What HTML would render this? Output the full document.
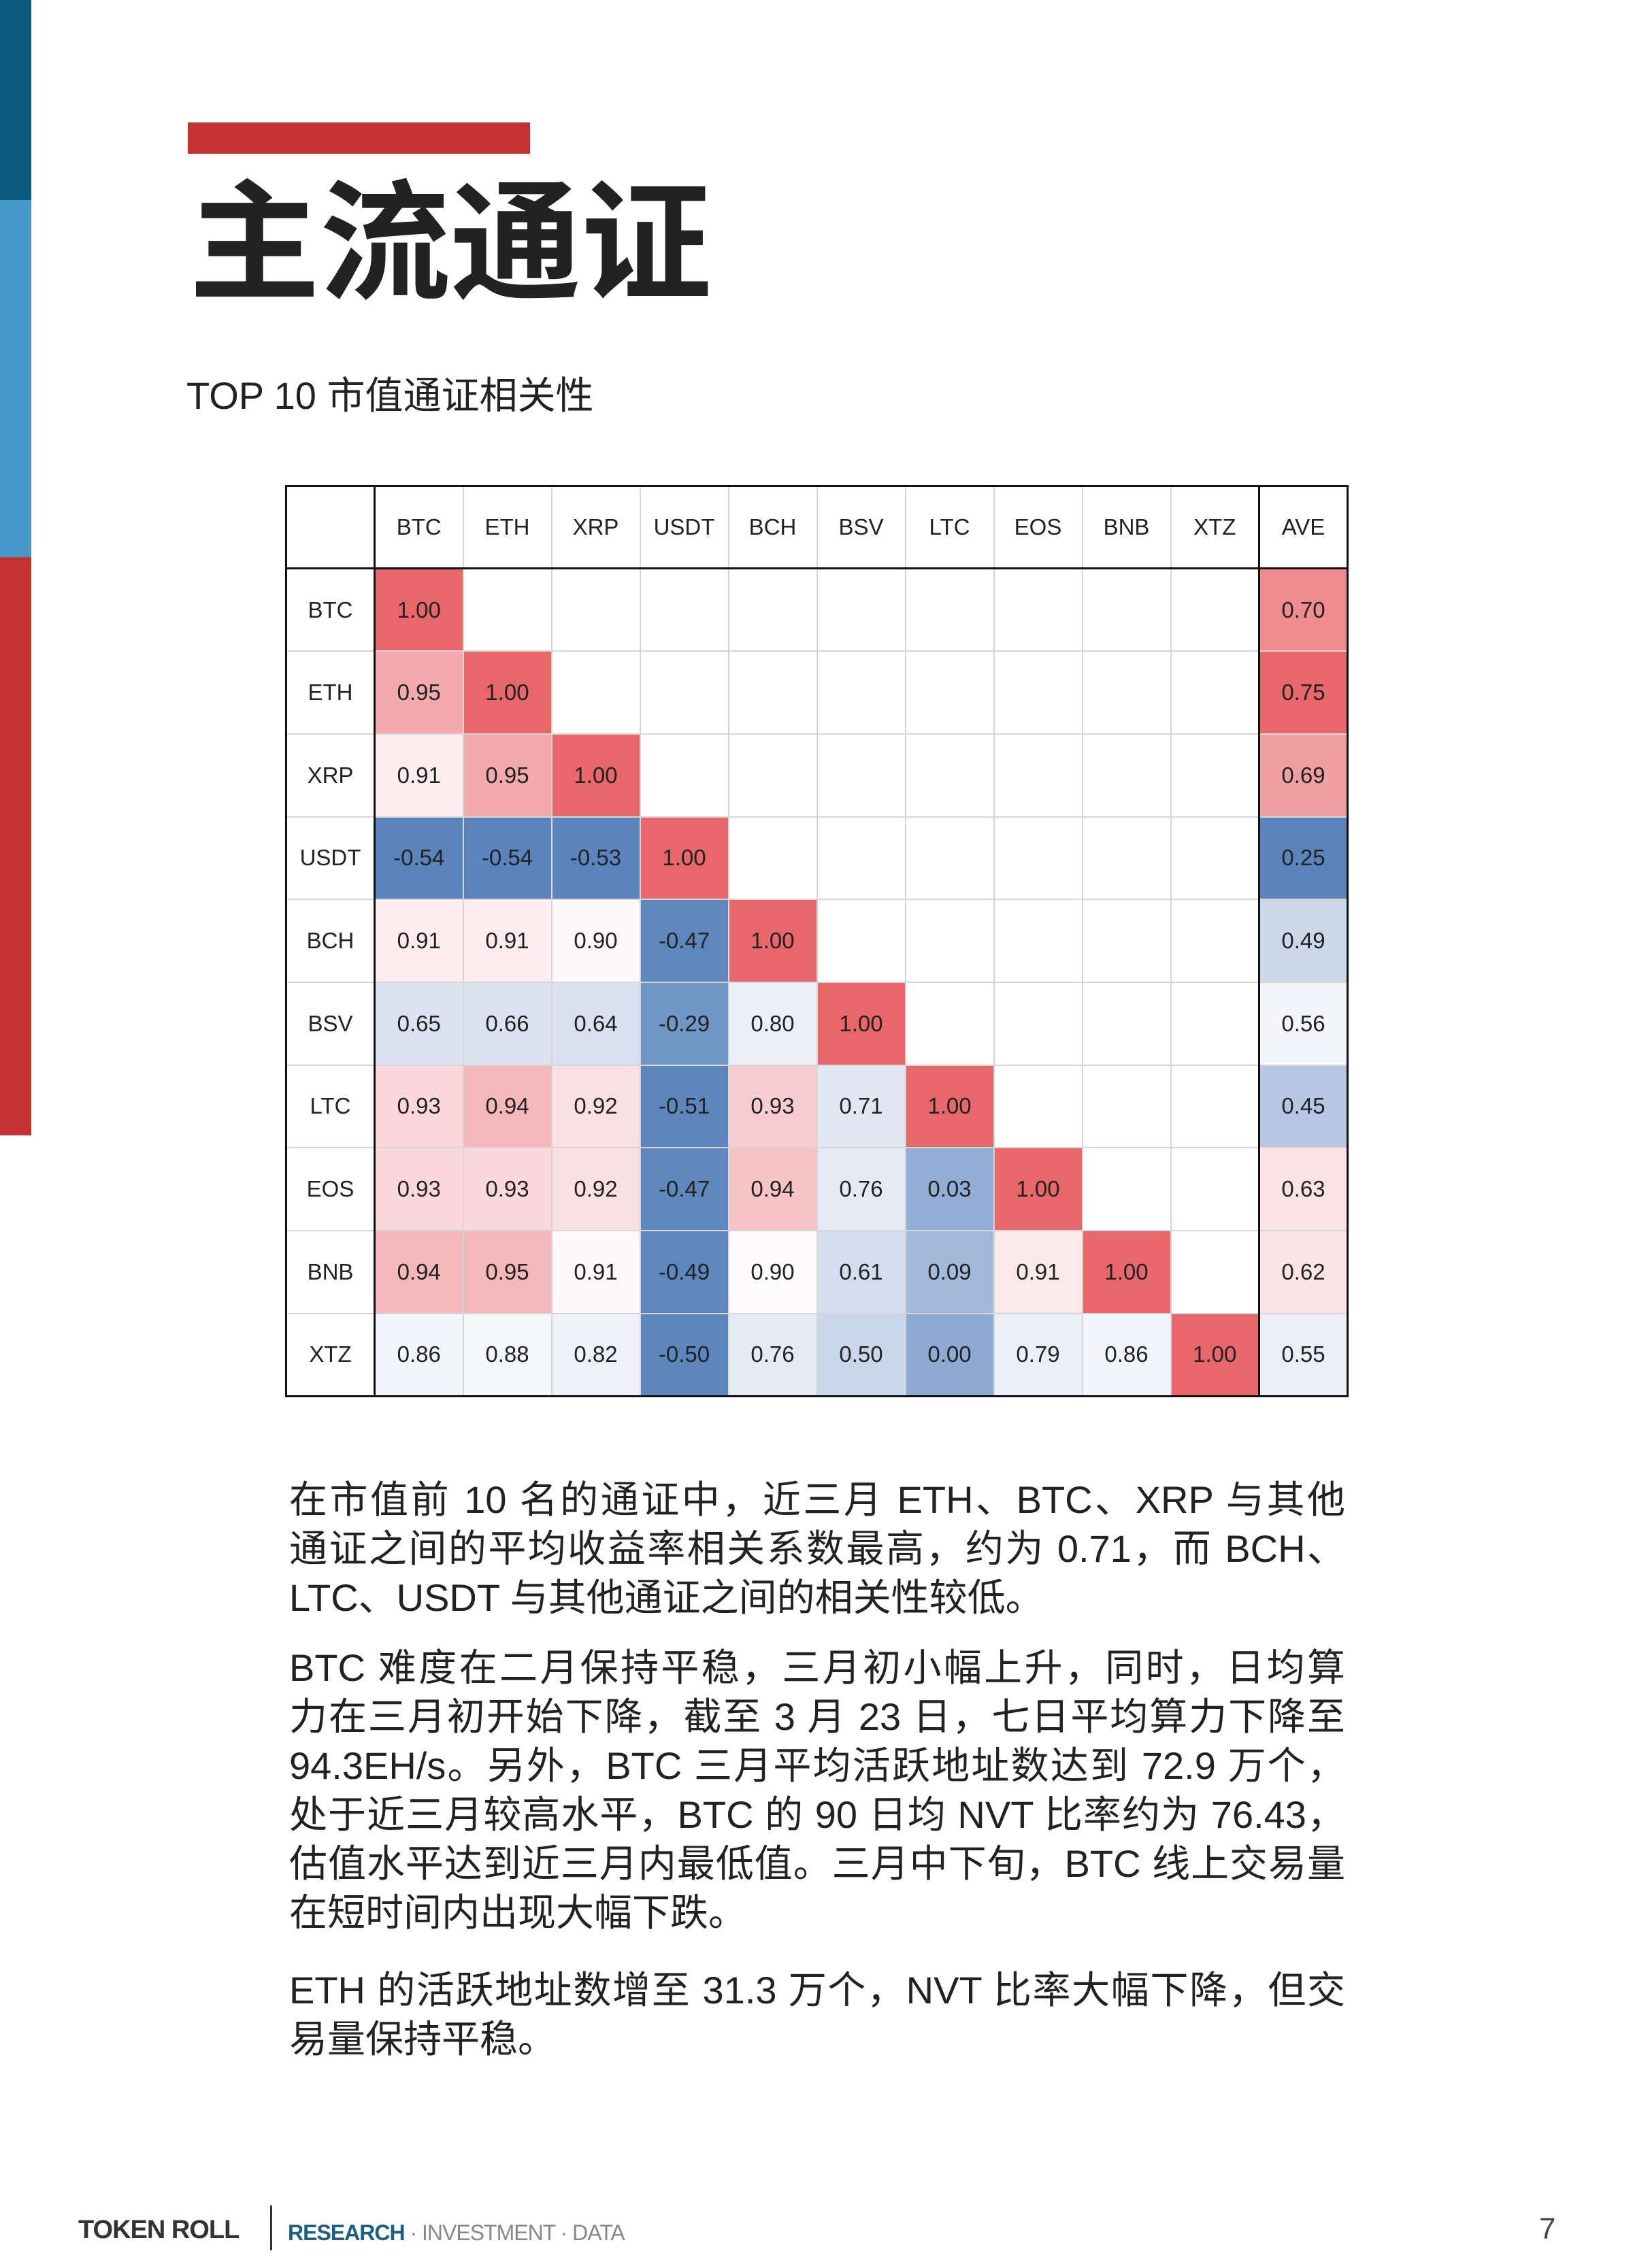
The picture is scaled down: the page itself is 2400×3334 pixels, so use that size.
<!DOCTYPE html>
<html><head><meta charset="utf-8">
<style>
*{margin:0;padding:0;box-sizing:border-box}
body{width:2400px;height:3334px;background:#fff;position:relative;overflow:hidden;font-family:"Liberation Sans","Noto Sans CJK SC",sans-serif;color:#222}
.bar{position:absolute;left:0;width:46px}
#title{position:absolute;left:278px;top:246px;font-family:"Noto Sans CJK SC",sans-serif;font-weight:700;font-size:192px;line-height:1;color:#222;white-space:nowrap}
#sub{position:absolute;left:274px;top:546px;font-size:56px;line-height:72px;white-space:nowrap;color:#222;font-family:"Liberation Sans","Noto Sans CJK SC",sans-serif}
table{position:absolute;left:419px;top:713px;border-collapse:collapse;table-layout:fixed;border:3px solid #111}
td{width:130px;height:121.7px;border:2px solid #d6d6d6;text-align:center;vertical-align:middle;font-size:33px;color:#222;padding:0}
tr.h td{height:121px;border-bottom:3px solid #111}
td.f{border-right:3px solid #111}
td.a{border-left:3px solid #111}
.r{background:#e8676b}
.txt{position:absolute;left:425px;width:1552px;font-size:56px;line-height:72px;color:#222;font-family:"Liberation Sans","Noto Sans CJK SC",sans-serif}
.txt div{white-space:nowrap;text-align:justify;text-align-last:justify}
.txt div.l{text-align-last:left}
#foot{position:absolute;top:3254px;left:115px;font-size:38px;line-height:48px;white-space:nowrap;font-family:"Liberation Sans",sans-serif}
</style></head><body>
<div class="bar" style="top:0;height:294px;background:#0d5a80"></div>
<div class="bar" style="top:294px;height:525px;background:#4598c8"></div>
<div class="bar" style="top:819px;height:850px;background:#c43331"></div>
<div style="position:absolute;left:276px;top:180px;width:503px;height:46px;background:#c43331"></div>
<div id="title">主流通证</div>
<div id="sub">TOP 10 市值通证相关性</div>

<table>
<tr class="h"><td class="f"></td><td>BTC</td><td>ETH</td><td>XRP</td><td>USDT</td><td>BCH</td><td>BSV</td><td>LTC</td><td>EOS</td><td>BNB</td><td>XTZ</td><td class="a">AVE</td></tr>
<tr><td class="f">BTC</td><td class="r">1.00</td><td></td><td></td><td></td><td></td><td></td><td></td><td></td><td></td><td></td><td class="a" style="background:#ee8c8f">0.70</td></tr>
<tr><td class="f">ETH</td><td style="background:#f2aaac">0.95</td><td class="r">1.00</td><td></td><td></td><td></td><td></td><td></td><td></td><td></td><td></td><td class="a r">0.75</td></tr>
<tr><td class="f">XRP</td><td style="background:#fcecef">0.91</td><td style="background:#f2aaac">0.95</td><td class="r">1.00</td><td></td><td></td><td></td><td></td><td></td><td></td><td></td><td class="a" style="background:#f0a0a3">0.69</td></tr>
<tr><td class="f">USDT</td><td style="background:#5a84bb">-0.54</td><td style="background:#5a84bb">-0.54</td><td style="background:#5b85bc">-0.53</td><td class="r">1.00</td><td></td><td></td><td></td><td></td><td></td><td></td><td class="a" style="background:#5a84bb">0.25</td></tr>
<tr><td class="f">BCH</td><td style="background:#fcecef">0.91</td><td style="background:#fcecef">0.91</td><td style="background:#fdf8f9">0.90</td><td style="background:#5e88bd">-0.47</td><td class="r">1.00</td><td></td><td></td><td></td><td></td><td></td><td class="a" style="background:#ccd8ea">0.49</td></tr>
<tr><td class="f">BSV</td><td style="background:#dae1ef">0.65</td><td style="background:#dbe2f0">0.66</td><td style="background:#d9e0ef">0.64</td><td style="background:#7098c7">-0.29</td><td style="background:#ebeff7">0.80</td><td class="r">1.00</td><td></td><td></td><td></td><td></td><td class="a" style="background:#f3f5fa">0.56</td></tr>
<tr><td class="f">LTC</td><td style="background:#fad7db">0.93</td><td style="background:#f4b8ba">0.94</td><td style="background:#fbe0e3">0.92</td><td style="background:#5c86bc">-0.51</td><td style="background:#f8cdd1">0.93</td><td style="background:#e1e7f3">0.71</td><td class="r">1.00</td><td></td><td></td><td></td><td class="a" style="background:#b5c7e2">0.45</td></tr>
<tr><td class="f">EOS</td><td style="background:#fad7db">0.93</td><td style="background:#fad7db">0.93</td><td style="background:#fbe0e3">0.92</td><td style="background:#5e88bd">-0.47</td><td style="background:#f6c4c7">0.94</td><td style="background:#e5eaf4">0.76</td><td style="background:#93aed5">0.03</td><td class="r">1.00</td><td></td><td></td><td class="a" style="background:#fbe2e5">0.63</td></tr>
<tr><td class="f">BNB</td><td style="background:#f4b8ba">0.94</td><td style="background:#f4b8ba">0.95</td><td style="background:#fdf8f9">0.91</td><td style="background:#5d87bd">-0.49</td><td style="background:#fdfbfc">0.90</td><td style="background:#d3ddee">0.61</td><td style="background:#a3b9da">0.09</td><td style="background:#fbe8eb">0.91</td><td class="r">1.00</td><td></td><td class="a" style="background:#fbe4e7">0.62</td></tr>
<tr><td class="f">XTZ</td><td style="background:#f3f5fa">0.86</td><td style="background:#f5f7fb">0.88</td><td style="background:#eef1f8">0.82</td><td style="background:#5c86bc">-0.50</td><td style="background:#e5eaf4">0.76</td><td style="background:#cad6ea">0.50</td><td style="background:#8eaad3">0.00</td><td style="background:#eaeef7">0.79</td><td style="background:#f3f5fa">0.86</td><td class="r">1.00</td><td class="a" style="background:#eaeff7">0.55</td></tr>
</table>

<div class="txt" style="top:2169px">
<div>在市值前 10 名的通证中，近三月 ETH、BTC、XRP 与其他</div>
<div>通证之间的平均收益率相关系数最高，约为 0.71，而 BCH、</div>
<div class="l">LTC、USDT 与其他通证之间的相关性较低。</div>
</div>
<div class="txt" style="top:2416px">
<div>BTC 难度在二月保持平稳，三月初小幅上升，同时，日均算</div>
<div>力在三月初开始下降，截至 3 月 23 日，七日平均算力下降至</div>
<div>94.3EH/s。另外，BTC 三月平均活跃地址数达到 72.9 万个，</div>
<div>处于近三月较高水平，BTC 的 90 日均 NVT 比率约为 76.43，</div>
<div>估值水平达到近三月内最低值。三月中下旬，BTC 线上交易量</div>
<div class="l">在短时间内出现大幅下跌。</div>
</div>
<div class="txt" style="top:2890px">
<div>ETH 的活跃地址数增至 31.3 万个，NVT 比率大幅下降，但交</div>
<div class="l">易量保持平稳。</div>
</div>

<div id="foot"><span style="font-weight:700;color:#333;letter-spacing:-1px">TOKEN ROLL</span></div>
<div style="position:absolute;left:397px;top:3242px;width:3px;height:66px;background:#333"></div>
<div style="position:absolute;left:423px;top:3260px;font-size:32px;line-height:44px;white-space:nowrap;font-family:'Liberation Sans',sans-serif;letter-spacing:-1px"><span style="color:#1b5e86;font-weight:700">RESEARCH</span><span style="color:#888"> · INVESTMENT · DATA</span></div>
<div style="position:absolute;left:2262px;top:3252px;font-size:44px;line-height:50px;color:#444;font-family:'Liberation Sans',sans-serif">7</div>
</body></html>
